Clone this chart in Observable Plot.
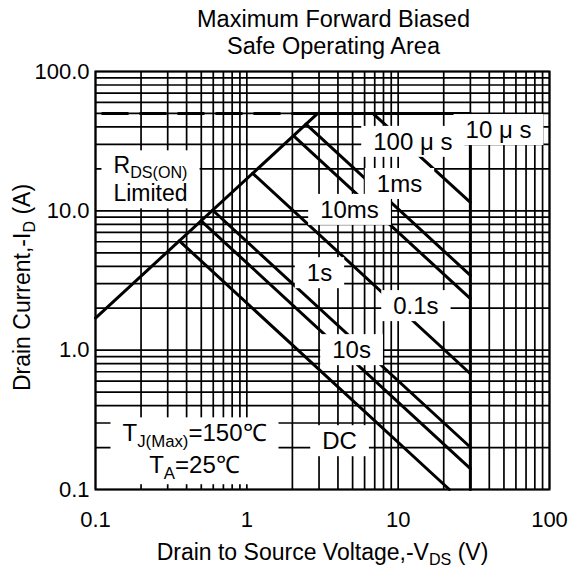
<!DOCTYPE html>
<html><head><meta charset="utf-8">
<script src="https://cdn.jsdelivr.net/npm/d3@7"></script>
<script src="https://cdn.jsdelivr.net/npm/@observablehq/plot@0.6"></script>
<style>
body{margin:0;background:#fff;}
#chart svg{display:block;}
</style></head><body><div id="chart"></div>
<script>
// ---- data ----
const xTicks = [0.1, 1, 10, 100];
const xTickLabels = ["0.1", "1", "10", "100"];
const yTicks = [0.1, 1, 10, 100];
const yTickLabels = ["0.1", "1.0", "10.0", "100.0"];
const gridDecades = [0.1, 1, 10];
const gridMantissas = [1, 2, 3, 4, 5, 6, 7, 8, 9];

// R_DS(on) limit line
const rdsV = [0.1, 2.94];
const rdsI = [1.7, 50];
// package current limit (dashed part)
const limitV = [0.1, 2.94];
const limitI = [50, 50];
// 10 us boundary: 50 A up to 30 V, then V_DS max
const tenUsV = [2.94, 30, 30];
const tenUsI = [50, 50, 0.1];
// pulse-width lines
const pulseNames = ["100us", "1ms", "10ms", "0.1s", "1s", "10s", "DC"];
const pulseStartV = [6.8, 2.46, 2.03, 1.093, 0.595, 0.499, 0.358];
const pulseStartI = [50, 41.9, 34.6, 18.6, 10.1, 8.48, 6.09];
const pulseEndV = [30, 30, 30, 30, 30, 30, 21.8];
const pulseEndI = [11.5, 3.44, 2.34, 0.677, 0.201, 0.141, 0.1];

// annotations
const labelText = ["R_{DS(ON)}\nLimited", "100 μ s", "10 μ s", "1ms", "10ms", "1s", "0.1s", "10s", "DC", "T_{J(Max)}=150℃\nT_{A}=25℃"];
const labelV = [0.231, 12.5, 46.0, 10.2, 4.77, 3.02, 13.1, 4.92, 4.10, 0.451];
const labelI = [17.1, 31.1, 37.8, 15.5, 10.1, 3.55, 2.06, 0.995, 0.221, 0.202];

const titleText = "Maximum Forward Biased\nSafe Operating Area";
const xLabel = "Drain to Source Voltage,-V_{DS} (V)";
const yLabel = "Drain Current,-I_{D} (A)";

// ---- build tables ----
const gridVals = [];
for (const d of gridDecades) for (const m of gridMantissas) gridVals.push(+(m * d).toPrecision(3));
gridVals.push(100);

const rds = rdsV.map((v, i) => ({V: v, I: rdsI[i]}));
const limit = limitV.map((v, i) => ({V: v, I: limitI[i]}));
const tenUs = tenUsV.map((v, i) => ({V: v, I: tenUsI[i]}));
const pulses = [];
pulseNames.forEach((n, i) => {
  pulses.push({name: n, V: pulseStartV[i], I: pulseStartI[i]});
  pulses.push({name: n, V: pulseEndV[i], I: pulseEndI[i]});
});
const labels = labelText.map((t, i) => ({text: t, V: labelV[i], I: labelI[i]}));
const single = labels.filter(d => !d.text.includes("\n"));
const rdsLabel = labels.filter(d => d.text.startsWith("R_"));
const tjLabel = labels.filter(d => d.text.startsWith("T_"));

const FONT = "'Liberation Sans', Arial, Helvetica, sans-serif";

const chart = Plot.plot({
  width: 568, height: 569,
  marginLeft: 95, marginRight: 19, marginTop: 71, marginBottom: 80,
  style: {fontFamily: FONT, fontSize: "22px", color: "black", background: "white", overflow: "visible"},
  x: {type: "log", domain: [0.1, 100], axis: null},
  y: {type: "log", domain: [0.1, 100], axis: null},
  marks: [
    Plot.ruleX(gridVals, {stroke: "black", strokeWidth: 1.7}),
    Plot.ruleY(gridVals, {stroke: "black", strokeWidth: 1.7}),
    Plot.frame({stroke: "black", strokeWidth: 2}),
    Plot.axisX({ticks: xTicks, tickSize: 0, tickPadding: 22, fontSize: 22, label: null,
      tickFormat: d => xTickLabels[xTicks.indexOf(d)]}),
    Plot.axisY({ticks: yTicks, tickSize: 0, tickPadding: 6, fontSize: 22, label: null,
      tickFormat: d => yTickLabels[yTicks.indexOf(d)]}),
    Plot.line(limit, {x: "V", y: "I", stroke: "black", strokeWidth: 3, strokeDasharray: "25,13", strokeDashoffset: 31}),
    Plot.line(rds, {x: "V", y: "I", stroke: "black", strokeWidth: 3}),
    Plot.line(tenUs, {x: "V", y: "I", stroke: "black", strokeWidth: 3}),
    Plot.line(pulses, {x: "V", y: "I", z: "name", stroke: "black", strokeWidth: 3}),
    Plot.text(single, {x: "V", y: "I", text: "text", fontSize: 24, className: "lbl"}),
    Plot.text(rdsLabel, {x: "V", y: "I", text: "text", fontSize: 23, lineHeight: 1.22, className: "lbl"}),
    Plot.text(tjLabel, {x: "V", y: "I", text: "text", fontSize: 24, lineHeight: 1.3, className: "lbl"}),
    Plot.text([titleText], {frameAnchor: "top", lineAnchor: "middle", textAnchor: "middle", dx: 11, dy: -39.5, fontSize: 23.5, lineHeight: 1.15}),
    Plot.text([xLabel], {frameAnchor: "bottom", lineAnchor: "middle", textAnchor: "middle", dy: 63, fontSize: 23}),
    Plot.text([yLabel], {frameAnchor: "left", lineAnchor: "middle", textAnchor: "middle", dx: -73, dy: 7, rotate: -90, fontSize: 23})
  ]
});
document.getElementById("chart").appendChild(chart);

// ---- subscripts (baseline-shift keeps later lines in place) ----
const SVGNS = "http://www.w3.org/2000/svg";
function subscriptify(root) {
  const els = Array.from(root.querySelectorAll("text, tspan")).filter(el =>
    Array.from(el.childNodes).every(n => n.nodeType === 3) && el.textContent.includes("_{"));
  for (const el of els) {
    const parts = el.textContent.split(/_\{([^}]*)\}/);
    el.textContent = "";
    parts.forEach((p, i) => {
      if (!p) return;
      if (i % 2 === 0) {
        el.appendChild(document.createTextNode(p));
      } else {
        const s = document.createElementNS(SVGNS, "tspan");
        s.style.fontSize = "70%";
        s.setAttribute("baseline-shift", "-0.34em");
        s.textContent = p;
        el.appendChild(s);
      }
    });
  }
}
subscriptify(chart);

// ---- white label boxes ----
const padX = 12, padY = 2;
for (const t of chart.querySelectorAll("g.lbl text")) {
  const b = t.getBBox();
  const r = document.createElementNS(SVGNS, "rect");
  r.setAttribute("x", b.x - padX);
  r.setAttribute("y", b.y - padY);
  r.setAttribute("width", b.width + 2 * padX);
  r.setAttribute("height", b.height + 2 * padY);
  r.setAttribute("fill", "white");
  r.setAttribute("stroke", "none");
  const tr = t.getAttribute("transform");
  if (tr) r.setAttribute("transform", tr);
  t.parentNode.insertBefore(r, t);
}
</script>
</body></html>
